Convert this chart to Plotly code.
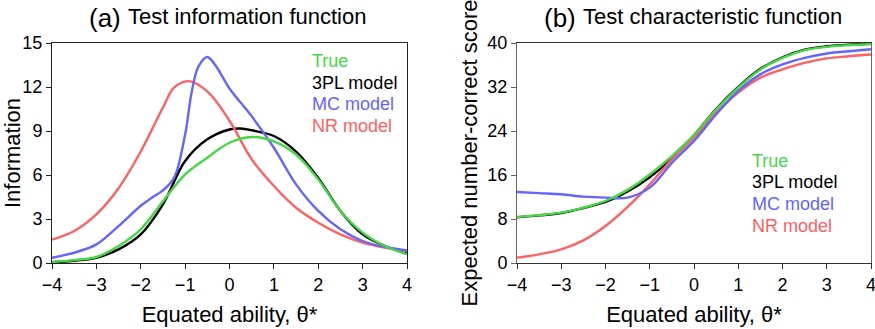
import plotly.graph_objects as go

# ---------------- data ----------------
# (a) Test information function
theta_true_info = [-4, -3.5, -3, -2.5, -2, -1.5, -1, -0.5, 0, 0.5, 1, 1.5, 2, 2.5, 3, 3.5, 4]
info_true = [0.07, 0.2, 0.41, 1.16, 2.3, 4.2, 6.05, 7.18, 8.2, 8.59, 8.3, 7.4, 5.7, 3.55, 2.07, 1.16, 0.6]

theta_3pl_info = [-4, -3.5, -3, -2.5, -2, -1.5, -1, -0.5, 0, 0.25, 0.5, 1, 1.5, 2, 2.5, 3, 3.5, 4]
info_3pl = [0.05, 0.15, 0.36, 0.93, 1.95, 4.0, 6.95, 8.43, 9.1, 9.17, 9.05, 8.66, 7.6, 5.8, 3.55, 1.95, 1.16, 0.64]

theta_mc_info = [-4, -3.5, -3, -2.5, -2, -1.75, -1.5, -1.25, -1.0, -0.85, -0.7, -0.5, -0.3, 0, 0.5, 1, 1.5, 2, 2.5, 3, 3.5, 4]
info_mc = [0.36, 0.7, 1.27, 2.52, 3.9, 4.45, 4.95, 5.8, 8.77, 11.7, 13.4, 14.05, 13.4, 11.9, 10.0, 7.86, 5.36, 3.55, 2.3, 1.5, 1.09, 0.86]

theta_nr_info = [-4, -3.5, -3, -2.5, -2, -1.5, -1.25, -0.92, -0.5, 0, 0.5, 1, 1.5, 2, 2.5, 3, 3.5, 4]
info_nr = [1.59, 2.18, 3.32, 5.1, 7.6, 10.6, 11.95, 12.4, 11.7, 9.7, 7.07, 5.25, 3.77, 2.75, 1.95, 1.39, 1.05, 0.82]

# (b) Test characteristic function
theta_tcc = [-4, -3.5, -3, -2.5, -2, -1.5, -1, -0.5, 0, 0.5, 1, 1.5, 2, 2.5, 3, 3.5, 4]
tcc_true = [8.36, 8.7, 9.15, 10.06, 11.27, 13.3, 16.1, 19.45, 23.3, 27.9, 31.9, 35.2, 37.3, 38.7, 39.3, 39.6, 39.8]
tcc_3pl = [8.3, 8.65, 9.1, 10.0, 11.1, 13.0, 15.6, 19.0, 23.2, 28.0, 32.0, 35.3, 37.4, 38.8, 39.4, 39.7, 39.85]
tcc_mc = [12.9, 12.7, 12.5, 12.06, 11.88, 11.9, 13.7, 18.2, 22.2, 27.0, 31.3, 34.3, 36.1, 37.3, 38.1, 38.5, 38.85]
tcc_nr = [0.97, 1.58, 2.48, 4.12, 6.73, 10.2, 14.3, 18.85, 22.8, 27.3, 31.0, 33.7, 35.2, 36.4, 37.2, 37.6, 37.9]

series_names = ["True", "3PL model", "MC model", "NR model"]
x_ticks = [-4, -3, -2, -1, 0, 1, 2, 3, 4]
y_ticks_info = [0, 3, 6, 9, 12, 15]
y_ticks_tcc = [0, 8, 16, 24, 32, 40]

# ---------------- style ----------------
W, H = 875, 329
GREEN, BLACK, BLUE, RED = "#44d844", "#000000", "#6464ff", "#ff6060"
colors = [GREEN, BLACK, BLUE, RED]
FONT = "Liberation Sans, Arial, sans-serif"
LW = 2.4


def px(x):
    return x / W


def py(y):
    return 1 - y / H


fig = go.Figure()

info_sets = [(theta_3pl_info, info_3pl, BLACK), (theta_nr_info, info_nr, RED),
             (theta_mc_info, info_mc, BLUE), (theta_true_info, info_true, GREEN)]
for th, v, c in info_sets:
    fig.add_trace(go.Scatter(x=th, y=v, mode="lines", line=dict(color=c, width=LW, shape="spline", smoothing=1.0),
                             xaxis="x", yaxis="y", showlegend=False, hoverinfo="skip"))

tcc_sets = [(tcc_3pl, BLACK), (tcc_nr, RED), (tcc_mc, BLUE), (tcc_true, GREEN)]
for v, c in tcc_sets:
    fig.add_trace(go.Scatter(x=theta_tcc, y=v, mode="lines", line=dict(color=c, width=LW, shape="spline", smoothing=1.0),
                             xaxis="x2", yaxis="y2", showlegend=False, hoverinfo="skip"))

ydom = [py(263), py(43)]
axis_common = dict(showgrid=False, zeroline=False, ticks="outside", ticklen=5, tickwidth=1,
                   showline=True, linewidth=1, mirror=True, automargin=False,
                   ticklabeloverflow="allow",
                   tickfont=dict(family=FONT, size=18, color="black"))

fig.update_layout(
    template="none",
    width=W, height=H,
    margin=dict(l=0, r=0, t=0, b=0),
    paper_bgcolor="white", plot_bgcolor="white",
    font=dict(family=FONT, color="black"),
    xaxis=dict(domain=[px(52), px(407)], range=[-4, 4], tickvals=x_ticks, anchor="y",
               linecolor="#222", tickcolor="#222",
               title=dict(text="Equated ability, θ*", standoff=13, font=dict(family=FONT, size=22, color="black")),
               **axis_common),
    yaxis=dict(domain=ydom, range=[0, 15], tickvals=y_ticks_info, anchor="x",
               linecolor="#222", tickcolor="#222",
               title=dict(text="Information", standoff=7, font=dict(family=FONT, size=22, color="black")),
               **axis_common),
    xaxis2=dict(domain=[px(517), px(871)], range=[-4, 4], tickvals=x_ticks, anchor="y2",
                linecolor="#333", tickcolor="#333",
                title=dict(text="Equated ability, θ*", standoff=13, font=dict(family=FONT, size=22, color="black")),
                **axis_common),
    yaxis2=dict(domain=ydom, range=[0, 40], tickvals=y_ticks_tcc, anchor="x2",
                linecolor="#666", tickcolor="#666",
                title=dict(text="Expected number-correct score", standoff=3,
                           font=dict(family=FONT, size=22, color="black")),
                **axis_common),
)

ann = []
# panel titles
ann.append(dict(x=px(123), y=py(18), xref="paper", yref="paper", text="(a)", showarrow=False,
                xanchor="right", yanchor="middle", font=dict(family=FONT, size=26, color="black")))
ann.append(dict(x=px(126), y=py(17), xref="paper", yref="paper", text="Test information function", showarrow=False,
                xanchor="left", yanchor="middle", font=dict(family=FONT, size=22, color="black")))
ann.append(dict(x=px(578), y=py(18), xref="paper", yref="paper", text="(b)", showarrow=False,
                xanchor="right", yanchor="middle", font=dict(family=FONT, size=26, color="black")))
ann.append(dict(x=px(581), y=py(17), xref="paper", yref="paper", text="Test characteristic function", showarrow=False,
                xanchor="left", yanchor="middle", font=dict(family=FONT, size=22, color="black")))

# legends (coloured text)
left_y = [61, 83, 104.5, 126.5]
right_y = [160.5, 182.5, 204, 226]
for name, c, yl, yr in zip(series_names, colors, left_y, right_y):
    ann.append(dict(x=px(310), y=py(yl), xref="paper", yref="paper", text=name, showarrow=False,
                    xanchor="left", yanchor="middle", font=dict(family=FONT, size=18, color=c)))
    ann.append(dict(x=px(750), y=py(yr), xref="paper", yref="paper", text=name, showarrow=False,
                    xanchor="left", yanchor="middle", font=dict(family=FONT, size=18, color=c)))

fig.update_layout(annotations=ann)
fig.write_html("out.html", config={"displayModeBar": False},
               post_script="document.body.style.margin='0px';document.body.style.overflow='hidden';")
